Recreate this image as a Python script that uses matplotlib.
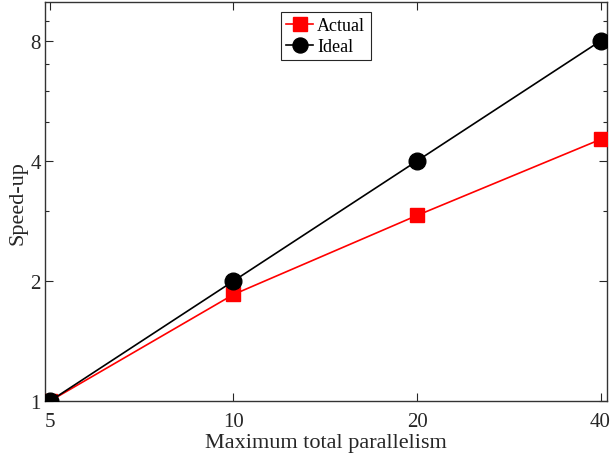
import numpy as np
import matplotlib
matplotlib.use('Agg')
import matplotlib.pyplot as plt
import matplotlib.ticker as mticker

# data
parallelism = [5, 10, 20, 40]
speedup_actual = [1.0, 1.85, 2.92, 4.53]
speedup_ideal = [1, 2, 4, 8]
x_ticks = [5, 10, 20, 40]
y_ticks = [1, 2, 4, 8]

plt.rcParams['font.family'] = ['Liberation Serif', 'DejaVu Serif']

fig = plt.figure(figsize=(6.11, 4.64), dpi=100)
ax = fig.add_axes([0.0736, 0.1336, 0.9194, 0.8593])

ax.plot(parallelism, speedup_actual, '-s', color='red', lw=1.2,
        markersize=10.5, label='Actual', zorder=3)
ax.plot(parallelism, speedup_ideal, '-o', color='black', lw=1.2,
        markersize=12, label='Ideal', zorder=4)

ax.set_xscale('log', base=2)
ax.set_yscale('log', base=2)
ax.set_xlim(4.906, 40.95)
ax.set_ylim(1, 10)

ax.xaxis.set_major_locator(mticker.FixedLocator(x_ticks))
ax.xaxis.set_major_formatter(mticker.FixedFormatter([str(v) for v in x_ticks]))
ax.xaxis.set_minor_locator(mticker.NullLocator())
ax.yaxis.set_major_locator(mticker.FixedLocator(y_ticks))
ax.yaxis.set_major_formatter(mticker.FixedFormatter([str(v) for v in y_ticks]))
ax.yaxis.set_minor_locator(mticker.FixedLocator([3, 5, 6, 7, 9]))
ax.yaxis.set_minor_formatter(mticker.NullFormatter())

ax.tick_params(which='both', direction='in', top=True, right=True,
               colors='0.15', labelsize=15)
ax.tick_params(axis='x', pad=8)
ax.tick_params(axis='y', pad=3)
ax.tick_params(which='major', length=6, width=0.8)
ax.tick_params(which='minor', length=3, width=0.8)
for s in ax.spines.values():
    s.set_color('0.2')
    s.set_linewidth(1.0)

ax.set_xlabel('Maximum total parallelism', fontsize=16, color='0.15', labelpad=1)
ax.set_ylabel('Speed-up', fontsize=16, color='0.15', labelpad=2)

leg = ax.legend(loc='upper center', bbox_to_anchor=(0.5, 0.985), fontsize=13,
                fancybox=False, edgecolor='0.15', framealpha=1,
                handlelength=1.45, handletextpad=0.25, borderpad=0.3,
                labelspacing=0.2, borderaxespad=0.2, markerscale=0.9)
leg.get_frame().set_linewidth(0.8)

fig.savefig('out.png', dpi=100)
